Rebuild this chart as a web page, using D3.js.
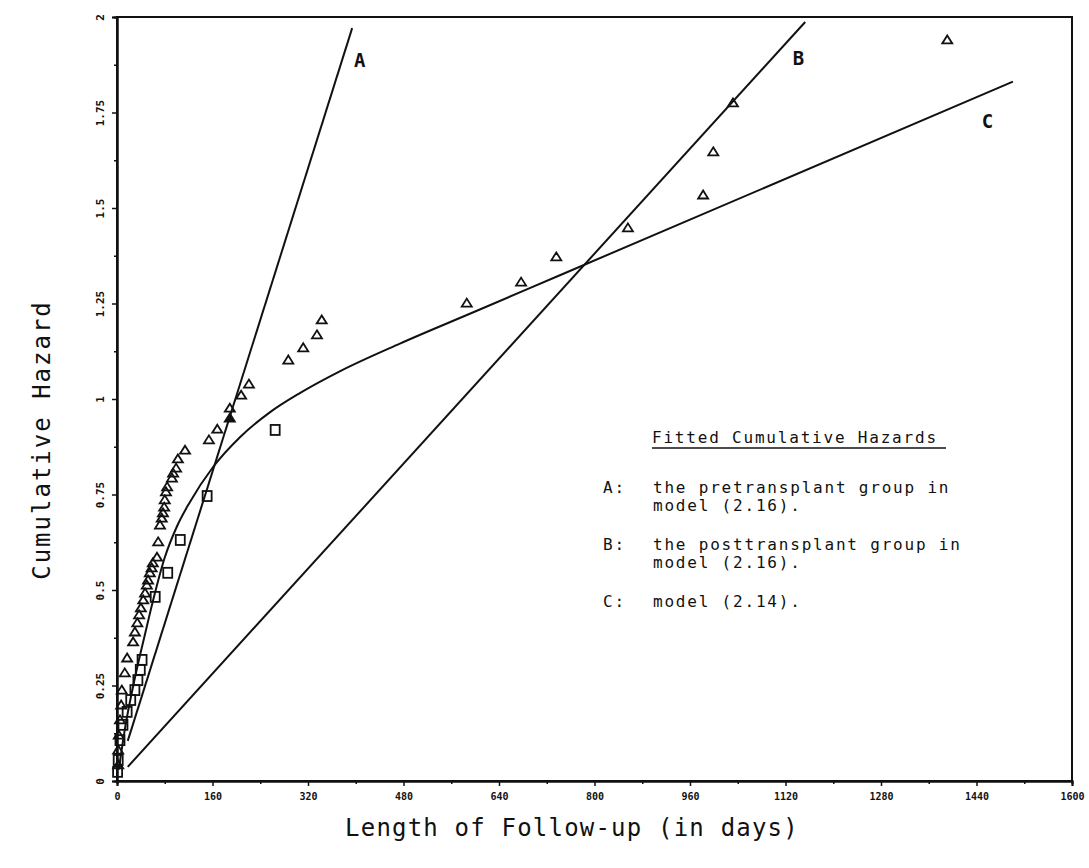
<!DOCTYPE html>
<html>
<head>
<meta charset="utf-8">
<script src="https://cdn.jsdelivr.net/npm/d3@7"></script>
<style>
  body { margin: 0; background: #fff; }
  text { font-family: "DejaVu Sans Mono", "Liberation Mono", monospace; fill: #111; }
</style>
</head>
<body>
<div id="chart"></div>
<script>

// tick values and labels
var xTicks = [0, 160, 320, 480, 640, 800, 960, 1120, 1280, 1440, 1600];
var xMinor = [80, 240, 400, 560, 720, 880, 1040, 1200, 1360, 1520];
var yTicks = [0, 0.25, 0.5, 0.75, 1, 1.25, 1.5, 1.75, 2];
var yMinor = [0.125, 0.375, 0.625, 0.875, 1.125, 1.375, 1.625, 1.875];
var yTickLabels = ['0', '0.25', '0.5', '0.75', '1', '1.25', '1.5', '1.75', '2'];

// observed cumulative hazards: [days, hazard]
var triangles = [
  [2, 0.042], [2, 0.081], [3, 0.120], [5, 0.160], [7, 0.199], [8, 0.238],
  [13, 0.283], [17, 0.322], [27, 0.364], [30, 0.390], [34, 0.414], [37, 0.435],
  [40, 0.453], [44, 0.474], [47, 0.492], [50, 0.513], [52, 0.526], [55, 0.545],
  [58, 0.558], [60, 0.571], [67, 0.586], [69, 0.626], [72, 0.670], [75, 0.688],
  [77, 0.702], [79, 0.717], [80, 0.736], [82, 0.757], [84, 0.770], [92, 0.793],
  [94, 0.806], [99, 0.819], [102, 0.843], [114, 0.866], [154, 0.893], [168, 0.921],
  [189, 0.976], [208, 1.010], [221, 1.039], [287, 1.102], [312, 1.134],
  [335, 1.168], [343, 1.207], [586, 1.251], [677, 1.306], [736, 1.372], [856, 1.448],
  [982, 1.534], [999, 1.647], [1032, 1.775], [1391, 1.940]
];
var filledTriangles = [[189, 0.950]];
var squares = [
  [1, 0.024], [2, 0.055], [5, 0.107], [10, 0.147], [17, 0.181], [23, 0.212],
  [30, 0.238], [35, 0.264], [39, 0.291], [42, 0.317], [64, 0.482], [85, 0.545],
  [106, 0.631], [151, 0.746], [265, 0.919]
];

// fitted cumulative hazards
var lineA = [[18, 0.105], [394, 1.971]];
var lineB = [[18, 0.037], [1153, 1.987]];
var curveC = [
  [3, 0.030], [13, 0.134], [30, 0.270], [47, 0.385], [60, 0.470], [80, 0.585],
  [100, 0.665], [122, 0.730], [161, 0.822], [206, 0.900], [256, 0.965], [307, 1.016],
  [374, 1.073], [474, 1.145], [600, 1.229], [742, 1.324], [1501, 1.831]
];

var legendTitle = 'Fitted Cumulative Hazards';
var legendItems = [
  {key: 'A:', lines: ['the pretransplant group in', 'model (2.16).']},
  {key: 'B:', lines: ['the posttransplant group in', 'model (2.16).']},
  {key: 'C:', lines: ['model (2.14).']}
];

var width = 1089, height = 868;
var margin = {top: 17, right: 17, bottom: 87, left: 117};

var svg = d3.select('#chart').append('svg')
  .attr('width', width).attr('height', height);

var x = d3.scaleLinear().domain([0, 1600]).range([margin.left, width - margin.right]);
var y = d3.scaleLinear().domain([0, 2]).range([height - margin.bottom, margin.top]);

// frame
svg.append('rect')
  .attr('x', x(0)).attr('y', y(2))
  .attr('width', x(1600) - x(0)).attr('height', y(0) - y(2))
  .attr('fill', 'none').attr('stroke', '#111').attr('stroke-width', 2);

// x axis
var xAxis = svg.append('g')
  .attr('transform', 'translate(0,' + y(0) + ')')
  .call(d3.axisBottom(x).tickValues(xTicks).tickSize(5).tickPadding(7).tickFormat(d3.format('d')));
svg.append('g')
  .attr('transform', 'translate(0,' + y(0) + ')')
  .call(d3.axisBottom(x).tickValues(xMinor).tickSize(3).tickFormat(''));

// y axis
var yAxis = svg.append('g')
  .attr('transform', 'translate(' + x(0) + ',0)')
  .call(d3.axisLeft(y).tickValues(yTicks).tickSize(5).tickPadding(8)
    .tickFormat((d, i) => yTickLabels[i]));
svg.append('g')
  .attr('transform', 'translate(' + x(0) + ',0)')
  .call(d3.axisLeft(y).tickValues(yMinor).tickSize(3).tickFormat(''));

svg.selectAll('.domain').attr('stroke', '#111').attr('stroke-width', 2);
svg.selectAll('.tick line').attr('stroke', '#111').attr('stroke-width', 1.5);
xAxis.selectAll('text')
  .style('font-size', '10px').style('font-weight', 'bold');
yAxis.selectAll('text')
  .style('font-size', '11px').style('font-weight', 'bold')
  .attr('text-anchor', 'middle')
  .attr('transform', 'translate(-17,0) rotate(-90)')
  .attr('x', 0).attr('dy', '0.35em');

// fitted lines
var line = d3.line().x(d => x(d[0])).y(d => y(d[1]));
var fits = svg.append('g').attr('fill', 'none').attr('stroke', '#111').attr('stroke-width', 2);
fits.append('path').attr('d', line(lineA));
fits.append('path').attr('d', line(lineB));
fits.append('path').attr('d', line.curve(d3.curveMonotoneX)(curveC));

// line labels
var fitLabels = [['A', 397, 1.887], ['B', 1132, 1.893], ['C', 1449, 1.728]];
svg.selectAll('.fit-label')
  .data(fitLabels)
  .enter().append('text')
  .attr('class', 'fit-label')
  .attr('x', d => x(d[1])).attr('y', d => y(d[2]))
  .attr('dy', '0.35em')
  .style('font-size', '19px').style('font-weight', 'bold')
  .text(d => d[0]);

// markers
var tri = 'M0,-4.5 L5,3.5 L-5,3.5 Z';
svg.append('g').selectAll('path')
  .data(triangles)
  .enter().append('path')
  .attr('d', tri)
  .attr('transform', d => 'translate(' + [x(d[0]), y(d[1])] + ')')
  .attr('fill', 'none').attr('stroke', '#111').attr('stroke-width', 1.8);

svg.append('g').selectAll('path')
  .data(filledTriangles)
  .enter().append('path')
  .attr('d', tri)
  .attr('transform', d => 'translate(' + [x(d[0]), y(d[1])] + ')')
  .attr('fill', '#111').attr('stroke', '#111').attr('stroke-width', 1.8);

svg.append('g').selectAll('rect')
  .data(squares)
  .enter().append('rect')
  .attr('x', d => x(d[0]) - 4.5).attr('y', d => y(d[1]) - 5)
  .attr('width', 9).attr('height', 10)
  .attr('fill', 'none').attr('stroke', '#111').attr('stroke-width', 1.8);

// legend
var legend = svg.append('g').attr('transform', 'translate(603,443)')
  .style('font-size', '16px').style('letter-spacing', '1.8px');
legend.append('text').attr('x', 49).attr('y', 0).text(legendTitle);
legend.append('line')
  .attr('x1', 49).attr('x2', 343).attr('y1', 5).attr('y2', 5)
  .attr('stroke', '#111').attr('stroke-width', 1.5);

var ly = 50;
legendItems.forEach(function(item) {
  legend.append('text').attr('x', 0).attr('y', ly).text(item.key);
  item.lines.forEach(function(l, i) {
    legend.append('text').attr('x', 50).attr('y', ly + i * 18).text(l);
  });
  ly += 57;
});

// axis titles
svg.append('text')
  .attr('transform', 'translate(' + 50 + ',440) rotate(-90)')
  .attr('text-anchor', 'middle')
  .style('font-size', '24px').style('letter-spacing', '2px')
  .text('Cumulative Hazard');

svg.append('text')
  .attr('x', 572).attr('y', 836)
  .attr('text-anchor', 'middle')
  .style('font-size', '24px').style('letter-spacing', '1.2px')
  .text('Length of Follow-up (in days)');

</script>
</body>
</html>
